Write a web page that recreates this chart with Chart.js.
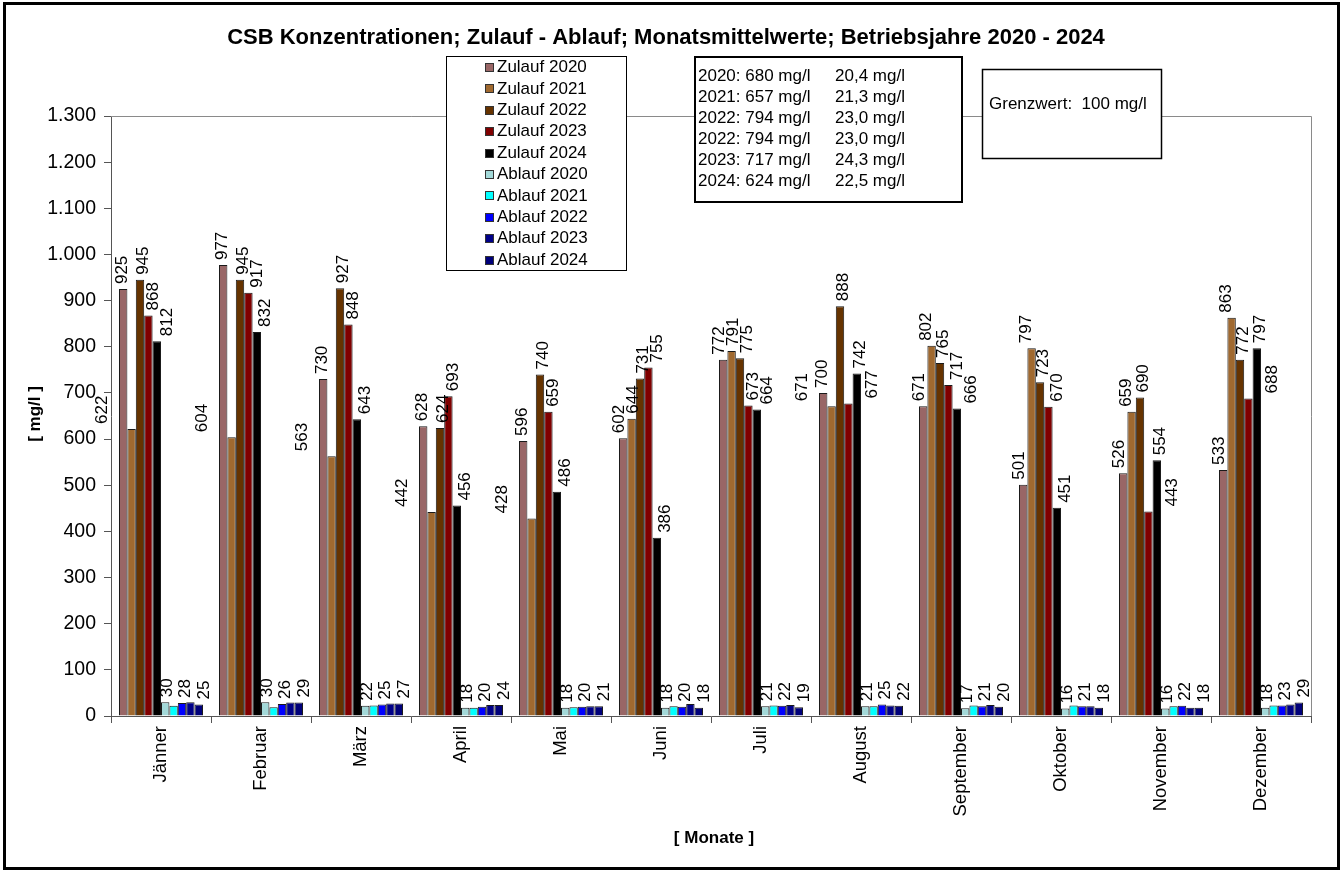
<!DOCTYPE html>
<html>
<head>
<meta charset="utf-8">
<title>CSB Konzentrationen</title>
<script src="https://cdn.jsdelivr.net/npm/chart.js@4/dist/chart.umd.min.js"></script>
<style>
  html, body { margin: 0; padding: 0; background: #fff; }
  #wrap { width: 1344px; height: 873px; }
</style>
</head>
<body>
<div id="wrap"><canvas id="c" width="1344" height="873"></canvas></div>
<script>
// Monatsmittelwerte CSB [mg/l]
const months = ['Jänner','Februar','März','April','Mai','Juni','Juli','August','September','Oktober','November','Dezember'];

const zulauf2020 = [925, 977, 730, 628, 596, 602, 772, 700, 671, 501, 526, 533];
const zulauf2021 = [622, 604, 563, 442, 428, 644, 791, 671, 802, 797, 659, 863];
const zulauf2022 = [945, 945, 927, 624, 740, 731, 775, 888, 765, 723, 690, 772];
const zulauf2023 = [868, 917, 848, 693, 659, 755, 673, 677, 717, 670, 443, 688];
const zulauf2024 = [812, 832, 643, 456, 486, 386, 664, 742, 666, 451, 554, 797];

const ablauf2020 = [30, 30, 22, 18, 18, 18, 21, 21, 17, 16, 16, 18];
const ablauf2021 = [22, 19, 23, 18, 19, 21, 23, 21, 23, 23, 21, 23];
const ablauf2022 = [28, 26, 25, 20, 20, 20, 22, 25, 21, 21, 22, 23];
const ablauf2023 = [30, 29, 27, 24, 21, 26, 24, 23, 24, 21, 18, 25];
const ablauf2024 = [25, 29, 27, 24, 21, 18, 19, 22, 20, 18, 18, 29];

// Jahresmittelwerte (Zulauf / Ablauf)
const meanYears   = ['2020', '2021', '2022', '2022', '2023', '2024'];
const meanZulauf  = ['680', '657', '794', '794', '717', '624'];
const meanAblauf  = ['20,4', '21,3', '23,0', '23,0', '24,3', '22,5'];

const yTicks = [0, 100, 200, 300, 400, 500, 600, 700, 800, 900, 1000, 1100, 1200, 1300];

const titleText = 'CSB Konzentrationen; Zulauf - Ablauf; Monatsmittelwerte; Betriebsjahre 2020 - 2024';
const limitText = 'Grenzwert:  100 mg/l';

const FONT = '"Liberation Sans", Arial, Helvetica, sans-serif';

function fmtDe(v) {
  if (v >= 1000) return Math.floor(v / 1000) + '.' + String(v % 1000).padStart(3, '0');
  return String(v);
}

function series(label, data, color, labelShift) {
  return {
    label, data,
    backgroundColor: color,
    borderColor: '#1a1a1a',
    borderWidth: 1,
    categoryPercentage: 0.84,
    barPercentage: 1.0,
    valueLabelShift: labelShift   // null: keine Wertbeschriftung
  };
}

// bevorzugter seitlicher Versatz der Beschriftung je Reihe
const datasets = [
  series('Zulauf 2020', zulauf2020, '#996666', j => zulauf2021[j] > zulauf2020[j] ? -4 : -1),
  series('Zulauf 2021', zulauf2021, '#a0692f', j => zulauf2021[j] > zulauf2020[j] ? -5 : -29),
  series('Zulauf 2022', zulauf2022, '#663300', 3),
  series('Zulauf 2023', zulauf2023, '#800000', j => zulauf2023[j] < zulauf2024[j] ? 24 : 5),
  series('Zulauf 2024', zulauf2024, '#000000', j => zulauf2023[j] < zulauf2024[j] ? 4 : 9),
  series('Ablauf 2020', ablauf2020, '#a3d9d9', 2),
  series('Ablauf 2021', ablauf2021, '#00ffff', null),
  series('Ablauf 2022', ablauf2022, '#0000ff', 3),
  series('Ablauf 2023', ablauf2023, '#000088', null),
  series('Ablauf 2024', ablauf2024, '#00007a', 6)
];

// Wertbeschriftungen, um 90° gedreht über den Säulen;
// überlappende Beschriftungen eines Monats werden nach rechts geschoben
const valueLabels = {
  id: 'valueLabels',
  afterDatasetsDraw(chart) {
    const ctx = chart.ctx;
    ctx.save();
    ctx.font = '17px ' + FONT;
    ctx.fillStyle = '#000';
    ctx.textAlign = 'left';
    ctx.textBaseline = 'middle';
    const w = 14;
    const n = chart.data.labels.length;
    for (let j = 0; j < n; j++) {
      const placed = [];
      chart.data.datasets.forEach((ds, i) => {
        const shift = ds.valueLabelShift;
        if (shift === null || shift === undefined) return;
        const bar = chart.getDatasetMeta(i).data[j];
        const text = String(ds.data[j]);
        const h = ctx.measureText(text).width;
        let x = bar.x + (typeof shift === 'function' ? shift(j) : shift);
        const yb = bar.y - 5, yt = yb - h;
        let moved = true, guard = 0;
        while (moved && guard++ < 20) {
          moved = false;
          for (const p of placed) {
            const overlapX = (x - w / 2) < p.r - 1 && (x + w / 2) > p.l + 1;
            const overlapY = yt < p.b && yb > p.t;
            if (overlapX && overlapY) { x = p.r + w / 2; moved = true; }
          }
        }
        placed.push({ l: x - w / 2, r: x + w / 2, t: yt, b: yb });
        ctx.save();
        ctx.translate(x, yb);
        ctx.rotate(-Math.PI / 2);
        ctx.fillText(text, 0, 0);
        ctx.restore();
      });
    }
    ctx.restore();
  }
};

// Rahmen, Titel, Achsentitel, Legende und Textfelder
const decorations = {
  id: 'decorations',
  beforeDraw(chart) {
    const ctx = chart.ctx;
    ctx.save();
    ctx.fillStyle = '#fff';
    ctx.fillRect(0, 0, chart.width, chart.height);
    ctx.restore();
  },
  afterDraw(chart) {
    const ctx = chart.ctx;
    const a = chart.chartArea;
    ctx.save();

    // Begrenzung der Zeichenfläche oben und rechts
    ctx.strokeStyle = '#8a8a8a';
    ctx.lineWidth = 1;
    ctx.beginPath();
    ctx.moveTo(a.left, a.top + 0.5);
    ctx.lineTo(a.right + 0.5, a.top + 0.5);
    ctx.lineTo(a.right + 0.5, a.bottom);
    ctx.stroke();

    // äußerer Rahmen
    ctx.strokeStyle = '#000';
    ctx.lineWidth = 3;
    ctx.strokeRect(4.5, 3.5, 1334, 865);

    // Titel
    ctx.fillStyle = '#000';
    ctx.font = 'bold 22px ' + FONT;
    ctx.textAlign = 'center';
    ctx.textBaseline = 'middle';
    ctx.fillText(titleText, 666, 38);

    // Achsentitel
    ctx.font = 'bold 17px ' + FONT;
    ctx.fillText('[ Monate ]', 714, 838);
    ctx.save();
    ctx.translate(35, 414);
    ctx.rotate(-Math.PI / 2);
    ctx.fillText('[ mg/l ]', 0, 0);
    ctx.restore();

    // Legende
    ctx.fillStyle = '#fff';
    ctx.fillRect(446, 56, 180, 214);
    ctx.strokeStyle = '#000';
    ctx.lineWidth = 1;
    ctx.strokeRect(446.5, 56.5, 180, 214);
    ctx.font = '17px ' + FONT;
    ctx.textAlign = 'left';
    ctx.textBaseline = 'middle';
    chart.data.datasets.forEach((ds, i) => {
      const y = 67.5 + i * 21.4;
      ctx.fillStyle = ds.backgroundColor;
      ctx.fillRect(485, Math.round(y - 4.5), 9, 9);
      ctx.strokeStyle = '#333';
      ctx.strokeRect(485.5, Math.round(y - 4.5) + 0.5, 8, 8);
      ctx.fillStyle = '#000';
      ctx.fillText(ds.label, 497, y);
    });

    // Jahresmittelwerte
    ctx.fillStyle = '#fff';
    ctx.fillRect(694, 56, 268, 146);
    ctx.strokeStyle = '#000';
    ctx.lineWidth = 2;
    ctx.strokeRect(695, 57, 267, 145);
    ctx.fillStyle = '#000';
    meanYears.forEach((yr, i) => {
      const y = 76 + i * 21;
      ctx.fillText(yr + ': ' + meanZulauf[i] + ' mg/l', 698, y);
      ctx.fillText(meanAblauf[i] + ' mg/l', 835, y);
    });

    // Grenzwert
    ctx.fillStyle = '#fff';
    ctx.fillRect(982, 69, 179, 89);
    ctx.lineWidth = 1.5;
    ctx.strokeRect(982.5, 69.5, 179, 89);
    ctx.fillStyle = '#000';
    ctx.fillText(limitText, 989, 104);

    ctx.restore();
  }
};

new Chart(document.getElementById('c'), {
  type: 'bar',
  data: { labels: months, datasets },
  options: {
    responsive: false,
    animation: false,
    devicePixelRatio: 1,
    layout: { padding: { left: 20, top: 116, right: 33, bottom: 0 } },
    plugins: {
      legend: { display: false },
      title: { display: false },
      tooltip: { enabled: false }
    },
    scales: {
      x: {
        offset: true,
        grid: { display: true, offset: true, drawOnChartArea: false, drawTicks: true, tickLength: 7, color: '#555' },
        border: { display: true, color: '#555', width: 1 },
        ticks: { maxRotation: 90, minRotation: 90, autoSkip: false, padding: 3, color: '#000',
                 font: { size: 18.5, family: FONT } },
        afterFit(scale) { scale.height = 157; }
      },
      y: {
        min: 0, max: 1300,
        afterBuildTicks(scale) { scale.ticks = yTicks.map(v => ({ value: v })); },
        grid: { display: true, drawOnChartArea: false, drawTicks: true, tickLength: 7, color: '#555' },
        border: { display: true, color: '#555', width: 1 },
        ticks: { padding: 8, color: '#000', font: { size: 19.5, family: FONT },
                 callback: v => fmtDe(v) },
        afterFit(scale) { scale.width = 91; }
      }
    }
  },
  plugins: [decorations, valueLabels]
});
</script>
</body>
</html>
